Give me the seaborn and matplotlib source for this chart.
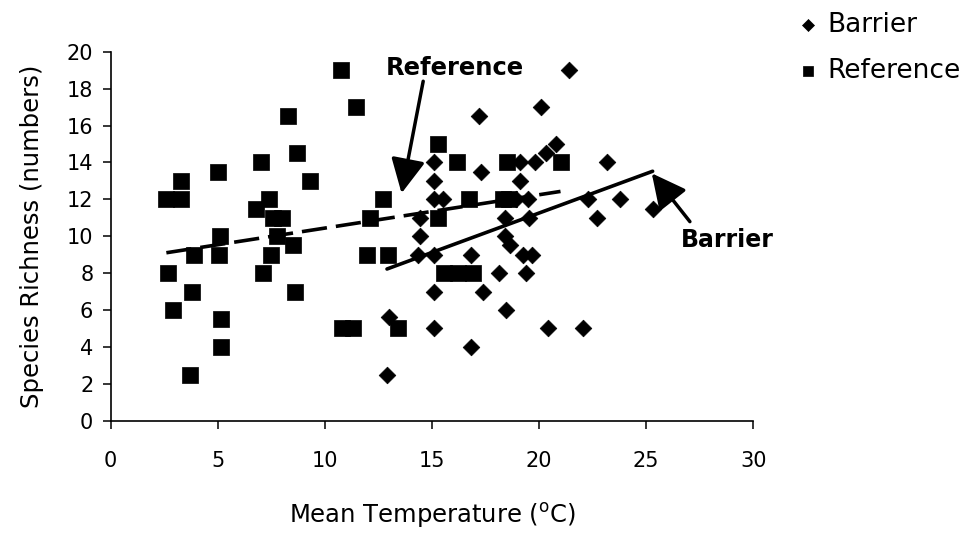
import matplotlib
matplotlib.use("Agg")
import matplotlib.pyplot as plt
import seaborn as sns
import pandas as pd
import numpy as np

# ---- data ----
barrier_temp = [17.2, 15.1, 17.3, 15.1, 15.1, 15.5, 14.45, 14.45, 14.35, 15.1, 16.8, 15.1, 13.0,
                15.1, 16.8, 12.9, 17.4, 21.4, 20.1, 20.8, 20.3, 19.1, 19.8, 23.15, 19.1, 18.9,
                19.5, 22.3, 23.8, 25.3, 18.4, 19.55, 22.7, 18.4, 18.65, 19.25, 19.65, 18.15,
                19.4, 18.45, 20.4, 22.05]
barrier_rich = [16.5, 14, 13.5, 13, 12, 12, 11, 10, 9, 9, 9, 7, 5.6,
                5, 4, 2.5, 7, 19, 17, 15, 14.5, 14, 14, 14, 13, 12,
                12, 12, 12, 11.5, 11, 11, 11, 10, 9.5, 9, 9, 8,
                8, 6, 5, 5]

reference_temp = [3.3, 2.6, 3.3, 2.7, 2.9, 3.7, 3.8, 3.9, 5.0, 5.05, 5.1, 5.15, 5.15, 7.0, 6.8,
                  7.4, 7.6, 8.0, 7.75, 7.5, 7.1, 8.3, 8.7, 8.5, 8.6, 9.3, 10.75, 11.45, 12.7,
                  12.1, 11.95, 12.95, 10.8, 11.3, 13.4, 15.3, 16.15, 15.3, 16.75, 15.55, 16.2,
                  16.9, 18.5, 21.0, 18.3, 18.6]
reference_rich = [13, 12, 12, 8, 6, 2.5, 7, 9, 13.5, 9, 10, 5.5, 4, 14, 11.5,
                  12, 11, 11, 10, 9, 8, 16.5, 14.5, 9.5, 7, 13, 19, 17, 12,
                  11, 9, 9, 5, 5, 5, 15, 14, 11, 12, 8, 8,
                  8, 14, 14, 12, 12]

x_ticks = [0, 5, 10, 15, 20, 25, 30]
y_ticks = [0, 2, 4, 6, 8, 10, 12, 14, 16, 18, 20]
series_names = ["Barrier", "Reference"]

df = pd.concat([
    pd.DataFrame({"Mean Temperature": barrier_temp, "Species Richness": barrier_rich, "Site": series_names[0]}),
    pd.DataFrame({"Mean Temperature": reference_temp, "Species Richness": reference_rich, "Site": series_names[1]}),
], ignore_index=True)

sns.set_style("ticks")
plt.rcParams["font.family"] = ["DejaVu Sans"]
plt.rcParams["text.color"] = "black"
plt.rcParams["axes.labelcolor"] = "black"
plt.rcParams["xtick.color"] = "black"
plt.rcParams["ytick.color"] = "black"

fig = plt.figure(figsize=(9.69, 5.36), dpi=100)
ax = fig.add_axes([0.1142, 0.2151, 0.6632, 0.6884])

# trend lines
sns.regplot(data=df[df.Site == "Reference"], x="Mean Temperature", y="Species Richness",
            scatter=False, ci=None, truncate=True, ax=ax,
            line_kws=dict(color="black", lw=2.6, dashes=(7, 2.5), solid_capstyle="butt", zorder=1))
sns.regplot(data=df[df.Site == "Barrier"], x="Mean Temperature", y="Species Richness",
            scatter=False, ci=None, truncate=True, ax=ax,
            line_kws=dict(color="black", lw=2.6, zorder=1))

# points
for name, mk, sz in [("Barrier", "D", 72), ("Reference", "s", 118)]:
    sub = df[df.Site == name]
    sns.scatterplot(data=sub, x="Mean Temperature", y="Species Richness", marker=mk, s=sz,
                    color="black", edgecolor="black", linewidth=0.5, ax=ax, zorder=3, label=name,
                    legend=False)

ax.set_xlim(0, 30)
ax.set_ylim(0, 20)
ax.set_xticks(x_ticks)
ax.set_yticks(y_ticks)
ax.tick_params(axis="both", direction="out", length=5.5, width=1.1, colors="black",
               labelsize=15, labelcolor="black")
ax.tick_params(axis="x", pad=16)
ax.tick_params(axis="y", pad=7)
for s in ["top", "right"]:
    ax.spines[s].set_visible(False)
for s in ["left", "bottom"]:
    ax.spines[s].set_linewidth(1.2)
    ax.spines[s].set_color("black")

ax.set_xlabel("Mean Temperature ($^{\\mathregular{o}}$C)", fontsize=17.5, labelpad=22,
              color="black")
ax.set_ylabel("Species Richness (numbers)", fontsize=17.5, labelpad=16, color="black")

# annotations
arrow_style = "-|>,head_length=1.4,head_width=0.7"
ax.text(16.07, 19.1, "Reference", fontsize=17.5, fontweight="bold", ha="center", va="center",
        color="black")
ax.annotate("", xy=(13.58, 12.33), xytext=(14.59, 18.4),
            arrowprops=dict(arrowstyle=arrow_style, color="black",
                            lw=2.5, shrinkA=0, shrinkB=0, mutation_scale=15))
ax.text(28.77, 9.79, "Barrier", fontsize=17, fontweight="bold", ha="center", va="center",
        clip_on=False, color="black")
ax.annotate("", xy=(25.26, 13.41), xytext=(27.04, 10.79),
            arrowprops=dict(arrowstyle=arrow_style, color="black",
                            lw=2.5, shrinkA=0, shrinkB=0, mutation_scale=15),
            annotation_clip=False)

handles, labels = ax.get_legend_handles_labels()
leg = fig.legend(handles, labels, loc="upper left", bbox_to_anchor=(0.8173, 0.987), frameon=False,
                 fontsize=19, borderaxespad=0.1, handlelength=0.8, handletextpad=0.35,
                 labelspacing=0.75, borderpad=0.1, markerscale=0.72)
for t in leg.get_texts():
    t.set_color("black")

fig.savefig("out.png", dpi=100)
